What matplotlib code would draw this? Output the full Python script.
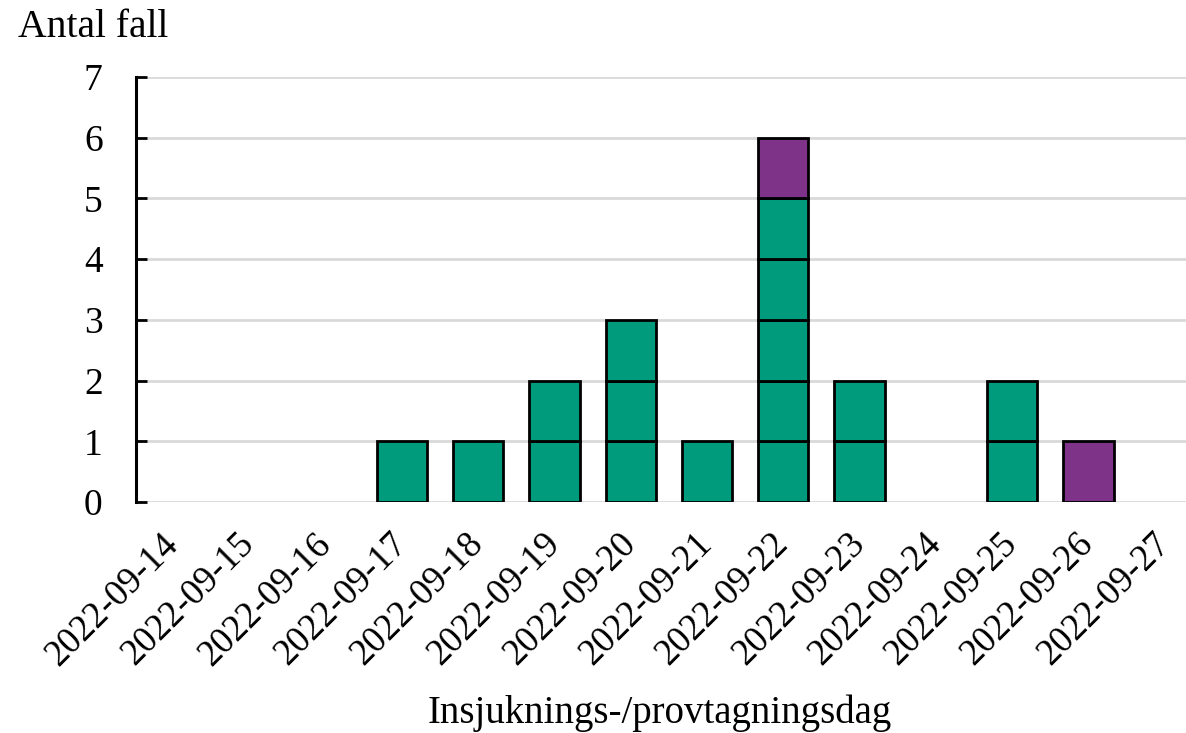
import matplotlib
matplotlib.use("Agg")
import matplotlib.pyplot as plt

dates = ["2022-09-14", "2022-09-15", "2022-09-16", "2022-09-17", "2022-09-18",
         "2022-09-19", "2022-09-20", "2022-09-21", "2022-09-22", "2022-09-23",
         "2022-09-24", "2022-09-25", "2022-09-26", "2022-09-27"]
green_cases = [0, 0, 0, 1, 1, 2, 3, 1, 5, 2, 0, 2, 0, 0]
purple_cases = [0, 0, 0, 0, 0, 0, 0, 0, 1, 0, 0, 0, 1, 0]
yticks = [0, 1, 2, 3, 4, 5, 6, 7]

GREEN = "#009B7D"
PURPLE = "#7E3388"

plt.rcParams['font.family'] = ['Liberation Serif', 'DejaVu Serif']

fig = plt.figure(figsize=(11.86, 7.33), dpi=100)
ax = fig.add_axes([136/1186, 1 - 502/733, 1 - 136/1186, (502 - 77)/733])

width = 0.66
for i, (g, p) in enumerate(zip(green_cases, purple_cases)):
    for j in range(g):
        ax.bar(i, 1, bottom=j, width=width, color=GREEN, edgecolor="black",
               linewidth=2, zorder=3)
    for j in range(p):
        ax.bar(i, 1, bottom=g + j, width=width, color=PURPLE, edgecolor="black",
               linewidth=2, zorder=3)

ax.set_xlim(-0.485, 13.28)
ax.set_ylim(0, 7)
ax.set_yticks(yticks)
ax.set_yticklabels([str(t) for t in yticks], fontsize=27)
ax.set_xticks(range(len(dates)))
ax.set_xticklabels(dates, rotation=45, ha="right", va="center",
                   rotation_mode="anchor", fontsize=26.5)

ax.grid(axis="y", color="#d9d9d9", linewidth=2, zorder=0)
ax.set_axisbelow(True)
for s in ["top", "right", "bottom"]:
    ax.spines[s].set_visible(False)
ax.spines["left"].set_linewidth(2.2)
ax.spines["left"].set_color("black")
ax.tick_params(axis="y", direction="in", length=8, width=2, pad=24)
ax.tick_params(axis="x", length=0, pad=26.5)

fig.text(660/1186, 1 - 723/733, "Insjuknings-/provtagningsdag", fontsize=28,
         ha="center", va="baseline")
fig.text(18/1186, 1 - 37/733, "Antal fall", fontsize=28.5, ha="left", va="baseline")

fig.savefig("out.png", dpi=100)
